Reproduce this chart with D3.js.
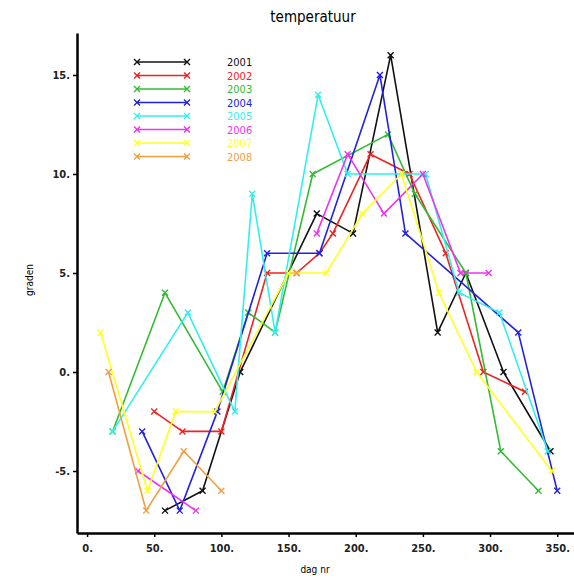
<!DOCTYPE html>
<html>
<head>
<meta charset="utf-8">
<script src="https://cdn.jsdelivr.net/npm/d3@7"></script>
<style>
  body { margin: 0; background: #fff; }
  svg { display: block; font-family: "DejaVu Sans Condensed", "DejaVu Sans", sans-serif; }
</style>
</head>
<body>
<svg id="chart" width="574" height="582"></svg>
<script>
// day number / temperature pairs, null = gap in the record
const years = ["2001", "2002", "2003", "2004", "2005", "2006", "2007", "2008"];
const colors = ["#111111", "#ee2222", "#33bb33", "#2222dd", "#33eeee", "#ee33ee", "#ffff22", "#f0a040"];

const s2001 = [[58, -7], [86, -6], [114, 0], [171, 8], [198, 7], [226, 16], [261, 2], [282, 5], [310, 0], [345, -4]];
const s2002 = [[50, -2], [71, -3], [100, -3], [134, 5], [156, 5], [173, 6], [183, 7], [211, 11], [240, 10], [267, 6], [295, 0], [326, -1]];
const s2003 = [[19, -3], [58, 4], [101, -1], [120, 3], [140, 2], [168, 10], [224, 12], [244, 9], [282, 5], [308, -4], [336, -6]];
const s2004 = [[41, -3], [69, -7], [97, -2], [134, 6], [173, 6], [218, 15], [237, 7], [321, 2], [350, -6]];
const s2005 = [[19, -3], [75, 3], [110, -2], [123, 9], [140, 2], [172, 14], [194, 10], [252, 10], [277, 4], [307, 3], [343, -4]];
const s2006 = [[38, -5], [81, -7], null, [171, 7], [194, 11], [221, 8], [250, 10], [278, 5], [299, 5]];
const s2007 = [[10, 2], [45, -6], [66, -2], [95, -2], [150, 5], [178, 5], [205, 8], [234, 10], [262, 4], [290, 0], [346, -5]];
const s2008 = [[16, 0], [44, -7], [72, -4], [100, -6], null, [156, 5]];

const series = [s2001, s2002, s2003, s2004, s2005, s2006, s2007, s2008];

const xTicks = [0, 50, 100, 150, 200, 250, 300, 350];
const yTicks = [-5, 0, 5, 10, 15];

const svg = d3.select("#chart");

const x = d3.scaleLinear().domain([-7.5, 362.5]).range([77, 574]);
const y = d3.scaleLinear().domain([-8.13, 17.12]).range([533, 33]);

// title and axis titles
svg.append("text")
    .attr("x", 313).attr("y", 22)
    .attr("text-anchor", "middle")
    .attr("font-size", 15)
    .text("temperatuur");

svg.append("text")
    .attr("transform", "translate(33,280) rotate(-90)")
    .attr("text-anchor", "middle")
    .attr("font-size", 10)
    .text("graden");

svg.append("text")
    .attr("x", 315).attr("y", 573)
    .attr("text-anchor", "middle")
    .attr("font-size", 10)
    .text("dag nr");

// axes
const xAxis = svg.append("g")
    .attr("transform", `translate(0,${y.range()[0]})`)
    .call(d3.axisBottom(x).tickValues(xTicks).tickSize(4).tickSizeOuter(0).tickFormat(d => d + "."));

const yAxis = svg.append("g")
    .attr("transform", `translate(${x.range()[0]},0)`)
    .call(d3.axisLeft(y).tickValues(yTicks).tickSize(4).tickSizeOuter(0).tickFormat(d => d + "."));

[xAxis, yAxis].forEach(g => {
    g.select(".domain").attr("stroke", "#000").attr("stroke-width", 2.5);
    g.selectAll(".tick line").attr("stroke", "#000").attr("stroke-width", 1.5);
    g.selectAll(".tick text")
        .attr("font-size", 11)
        .attr("font-weight", "bold")
        .attr("fill", "#222")
        .attr("font-family", "\"DejaVu Sans Condensed\", sans-serif");
});
xAxis.selectAll(".tick text").attr("dy", "1.1em");

// lines
const line = d3.line()
    .defined(d => d != null)
    .x(d => x(d[0]))
    .y(d => y(d[1]));

const cross = (g, px, py, c) => {
    const r = 3;
    g.append("path")
        .attr("d", `M${px - r},${py - r}L${px + r},${py + r}M${px - r},${py + r}L${px + r},${py - r}`)
        .attr("stroke", c)
        .attr("stroke-width", 1.4);
};

const plot = svg.append("g");
series.forEach((s, i) => {
    const g = plot.append("g");
    g.append("path")
        .datum(s)
        .attr("fill", "none")
        .attr("stroke", colors[i])
        .attr("stroke-width", 1.6)
        .attr("stroke-linejoin", "round")
        .attr("d", line);
    s.filter(d => d != null).forEach(d => cross(g, x(d[0]), y(d[1]), colors[i]));
});

// legend
const legend = svg.append("g");
years.forEach((yr, i) => {
    const ly = 62 + i * 13.5;
    legend.append("line")
        .attr("x1", 137).attr("x2", 187)
        .attr("y1", ly).attr("y2", ly)
        .attr("stroke", colors[i])
        .attr("stroke-width", 1.6);
    cross(legend, 137, ly, colors[i]);
    cross(legend, 187, ly, colors[i]);
    legend.append("text")
        .attr("x", 227).attr("y", ly + 4)
        .attr("font-size", 11)
        .attr("fill", colors[i])
        .text(yr);
});
</script>
</body>
</html>
